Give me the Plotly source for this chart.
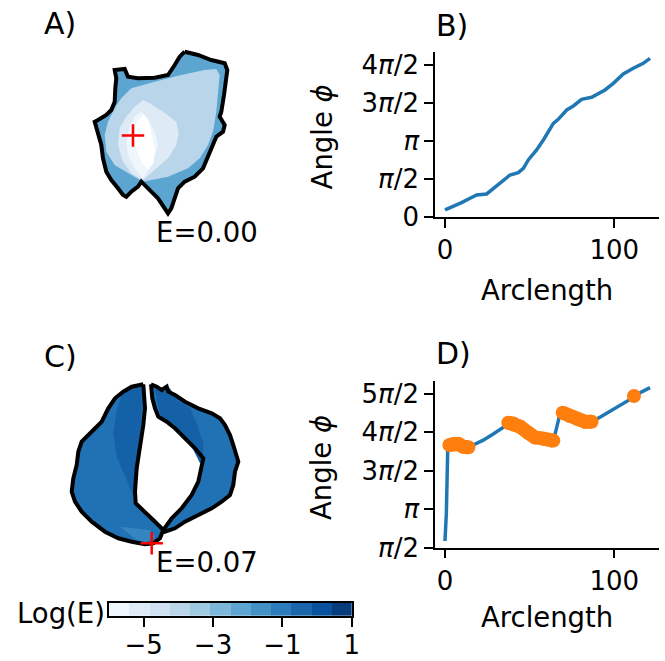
import numpy as np
import plotly.graph_objects as go

W, H = 665, 661
FONT = "DejaVu Sans"
FS = 26
FS_TEXT = 27.5
FS_TITLE = 30
BLUE = "#1f77b4"
ORANGE = "#ff7f0e"
PI = np.pi

# ---------------- Panel B data ----------------
b_arclength = [0, 4.9, 9.8, 14.8, 18.7, 24.6, 28.5, 34.4, 38.4, 43.3, 46.3, 49.2, 54.1,
               58.1, 62.0, 64.0, 66.9, 71.9, 75.8, 80.7, 86.6, 91.5, 94.5, 99.4, 105.3,
               111.2, 117.1, 121.1]
b_angle = [0.303, 0.441, 0.606, 0.785, 0.923, 0.965, 1.199, 1.543, 1.750, 1.846, 2.026,
           2.370, 2.783, 3.197, 3.679, 3.886, 4.051, 4.437, 4.602, 4.878, 4.961, 5.154,
           5.264, 5.539, 5.925, 6.160, 6.366, 6.573]
b_tickvals = [0, PI / 2, PI, 3 * PI / 2, 2 * PI]
b_ticktext = ["0", "<i>π</i>/2", "<i>π</i>", "3<i>π</i>/2", "4<i>π</i>/2"]

# ---------------- Panel D data ----------------
d_arclength = [0, 0.8, 1.6, 2.6, 4.9, 7.9, 10.8, 13.8, 16.7, 22.6, 28.5, 34.4, 37.4, 40.4,
               44.3, 49.2, 53.1, 58.1, 63.0, 64.0, 65.6, 67.5, 69.5, 73.8, 78.7, 82.7,
               86.6, 91.5, 97.4, 103.3, 109.3, 111.6, 116.1, 121.1]
d_angle = [1.843, 2.972, 5.556, 5.76, 5.80, 5.80, 5.69, 5.67, 5.76, 5.96, 6.21, 6.48, 6.67,
           6.64, 6.51, 6.26, 6.07, 6.02, 5.94, 5.94, 6.37, 6.92, 7.08, 6.94, 6.81, 6.71,
           6.71, 6.89, 7.12, 7.35, 7.62, 7.76, 7.94, 8.10]
d_flagged = [0, 0, 0, 1, 1, 1, 1, 1, 0, 0, 0, 0, 1, 1, 1, 1, 1, 1, 1, 1, 0, 0, 1, 1, 1, 1,
             1, 0, 0, 0, 0, 1, 0, 0]
d_tickvals = [PI / 2, PI, 3 * PI / 2, 2 * PI, 5 * PI / 2]
d_ticktext = ["<i>π</i>/2", "<i>π</i>", "3<i>π</i>/2", "4<i>π</i>/2", "5<i>π</i>/2"]

# ---------------- Colour levels (Log(E)) ----------------
levels = [-6.0, -5.417, -4.833, -4.25, -3.667, -3.083, -2.5, -1.917, -1.333, -0.75,
          -0.167, 0.417, 1.0]
level_colors = ["#eff6fc", "#deebf7", "#cee0f2", "#b9d5ea", "#9ecae1", "#7cb7da",
                "#5da5d1", "#4292c6", "#2c7cbb", "#1966ad", "#08519c", "#083b7b"]
cbar_ticks = [-5, -3, -1, 1]

# ---------------- Panel A shape (outline + filled level regions) ----------------
a_outline_x = [184.7, 198, 211.3, 224.7, 227.3, 225.3, 224, 221.3, 219.7, 224.7, 223, 216.3,
               213, 208, 203, 194.7, 184.7, 178, 174.7, 171.3, 168, 164.7, 158, 151.3, 144.7,
               141.3, 138, 131.3, 126.3, 123, 118, 111.3, 106.3, 103, 101.3, 98, 94.7, 98,
               106.3, 111.3, 114.7, 115.3, 116.3, 114.7, 124.7, 128, 138, 154.7, 168, 174.7,
               179.7, 184.7]
a_outline_y = [51.7, 55, 60, 63.3, 70, 81.7, 95, 111.7, 116.7, 125, 131.7, 136.7, 145, 158.3,
               168.3, 176.7, 181.7, 188.3, 198.3, 208.3, 213.3, 208.3, 198.3, 191.7, 185,
               181.7, 186.7, 191.7, 196.7, 195, 188.3, 180, 171.7, 158.3, 145, 131.7, 121.7,
               120, 115, 110, 101.7, 88.3, 78.3, 70, 69, 76.7, 78.3, 77.7, 75, 65, 56.7, 51.7]
a_lvl3_x = [121.3, 131.3, 154.7, 181.3, 204.7, 216.3, 219.7, 218, 216.3, 213, 208, 199.7, 188,
            168, 143, 131.3, 114.7, 106.3, 104.7, 108, 114.7]
a_lvl3_y = [98.3, 88.3, 81.7, 75, 70, 69, 75, 95, 111.7, 131.7, 145, 158.3, 168.3, 176.7,
            181.7, 175, 165, 151.7, 135, 121.7, 108.3]
a_lvl1_x = [143, 149.7, 163, 176.3, 178.7, 176.3, 168, 154.7, 143, 131.3, 123, 118, 119.7,
            126.3, 134.7]
a_lvl1_y = [100, 103.3, 111.7, 121.7, 133.3, 145, 158.3, 170, 180, 173.3, 161.7, 145, 128.3,
            116.7, 106.7]
a_lvl0_x = [141.3, 146.3, 154.7, 158, 153, 143, 134.7, 128, 126.3, 129.7, 134.7]
a_lvl0_y = [111.7, 116.7, 131.7, 145, 161.7, 178.3, 168.3, 155, 141.7, 126.7, 116.7]
a_core_x = [143.3, 148.3, 151.7, 155, 153.3, 148.3, 141.7, 136.7, 133.3, 136.7]
a_core_y = [114, 120, 133.3, 150, 163.3, 170, 163.3, 150, 136.7, 123.3]
a_start = (133, 135.5)
a_label = "E=0.00"

# ---------------- Panel C shape ----------------
c_left_x = [143.3, 144.3, 145, 143.3, 141, 138.3, 136.7, 135.7, 135, 135.7, 145, 155, 163.3,
            160, 153.3, 145, 131.7, 118.3, 105, 91.7, 81.7, 75, 71.7, 73.3, 76.7, 78.3, 81.7,
            91.7, 101.7, 108.3, 115, 123.3, 131.7, 143.3]
c_left_y = [384.3, 395, 408.3, 425, 441.7, 455, 468.3, 481.7, 491.7, 503.3, 511.7, 521.7, 530,
            538.3, 543.3, 544.3, 541.7, 538.3, 531.7, 521.7, 511.7, 501.7, 491.7, 478.3, 465,
            451.7, 441.7, 431.7, 421.7, 408.3, 398.3, 391.7, 386.7, 384.3]
c_right_x = [151, 156.7, 161.7, 165, 166.7, 168.3, 175, 185, 198.3, 211.7, 220, 225, 230,
             233.3, 236.7, 238.3, 235, 233.3, 230, 221.7, 211.7, 198.3, 185, 175, 165, 163.3,
             171.7, 181.7, 191.7, 198.3, 201.7, 203.3, 195, 185, 175, 166.7, 161.7, 158.3,
             155, 152.3, 151]
c_right_y = [384.3, 386.7, 390, 388.3, 386.7, 391.7, 395, 401.7, 408.3, 413.3, 418.3, 425, 435,
             445, 455, 461.7, 471.7, 485, 495, 501.7, 508.3, 515, 521.7, 528.3, 531.7, 530,
             518.3, 508.3, 495, 481.7, 468.3, 458.3, 448.3, 438.3, 428.3, 421.7, 418.3,
             416.7, 408.3, 398.3, 384.3]
c_dark_left_x = [123.3, 141.7, 141.7, 138.3, 135, 133.3, 126.7, 116.7, 113.3, 116.7]
c_dark_left_y = [390, 386.7, 413.3, 446.7, 480, 496.7, 480, 456.7, 433.3, 410]
c_dark_right_x = [155, 163.3, 170, 176.7, 190, 196.7, 203.3, 203.3, 200, 190, 176.7, 163.3,
                  160, 156.7]
c_dark_right_y = [388.3, 390, 388.3, 400, 408.3, 423.3, 443.3, 460, 463.3, 443.3, 426.7,
                  420, 413.3, 400]
c_light_x = [120, 150, 155, 150, 136.7]
c_light_y = [526.7, 530, 536.7, 543.3, 540]
c_start = (151.7, 543.3)
c_label = "E=0.07"

C_MAIN, C_DARK, C_LIGHT = "#2171b5", "#1461a8", "#3585c0"

fig = go.Figure()


def closed(xs, ys):
    return list(xs) + [xs[0]], list(ys) + [ys[0]]


def region(xs, ys, color, xa, ya):
    cx, cy = closed(xs, ys)
    fig.add_trace(go.Scatter(x=cx, y=cy, mode="lines", fill="toself", fillcolor=color,
                             line=dict(width=0, color=color), hoverinfo="skip",
                             showlegend=False, xaxis=xa, yaxis=ya))


def outline(xs, ys, xa, ya):
    cx, cy = closed(xs, ys)
    fig.add_trace(go.Scatter(x=cx, y=cy, mode="lines", line=dict(width=4, color="black"),
                             hoverinfo="skip", showlegend=False, xaxis=xa, yaxis=ya))


# Panel A
region(a_outline_x, a_outline_y, level_colors[6], "x3", "y3")
region(a_lvl3_x, a_lvl3_y, level_colors[3], "x3", "y3")
region(a_lvl1_x, a_lvl1_y, level_colors[1], "x3", "y3")
region(a_lvl0_x, a_lvl0_y, level_colors[0], "x3", "y3")
region(a_core_x, a_core_y, "#ffffff", "x3", "y3")
outline(a_outline_x, a_outline_y, "x3", "y3")
fig.add_trace(go.Scatter(x=[a_start[0]], y=[a_start[1]], mode="markers",
                         marker=dict(symbol="cross-thin", size=16, line=dict(width=2.5, color="red")),
                         showlegend=False, xaxis="x3", yaxis="y3"))

# Panel C
region(c_left_x, c_left_y, C_MAIN, "x4", "y4")
region(c_right_x, c_right_y, C_MAIN, "x4", "y4")
region(c_dark_left_x, c_dark_left_y, C_DARK, "x4", "y4")
region(c_dark_right_x, c_dark_right_y, C_DARK, "x4", "y4")
region(c_light_x, c_light_y, C_LIGHT, "x4", "y4")
outline(c_left_x, c_left_y, "x4", "y4")
outline(c_right_x, c_right_y, "x4", "y4")
fig.add_trace(go.Scatter(x=[c_start[0]], y=[c_start[1]], mode="markers",
                         marker=dict(symbol="cross-thin", size=16, line=dict(width=2.5, color="red")),
                         showlegend=False, xaxis="x4", yaxis="y4"))

# Panel B
fig.add_trace(go.Scatter(x=b_arclength, y=b_angle, mode="lines",
                         line=dict(color=BLUE, width=3.5), showlegend=False,
                         xaxis="x", yaxis="y"))

# Panel D
fig.add_trace(go.Scatter(x=d_arclength, y=d_angle, mode="lines",
                         line=dict(color=BLUE, width=3.5), showlegend=False,
                         xaxis="x2", yaxis="y2"))
ox = [x if f else None for x, f in zip(d_arclength, d_flagged)]
oy = [y if f else None for y, f in zip(d_angle, d_flagged)]
fig.add_trace(go.Scatter(x=ox, y=oy, mode="lines+markers", connectgaps=False,
                         line=dict(color=ORANGE, width=14),
                         marker=dict(color=ORANGE, size=14), showlegend=False,
                         xaxis="x2", yaxis="y2"))

# Colour bar
mids = [(levels[i] + levels[i + 1]) / 2 for i in range(len(levels) - 1)]
n = len(level_colors)
cscale = []
for i, c in enumerate(level_colors):
    cscale.append([i / n, c])
    cscale.append([(i + 1) / n, c])
fig.add_trace(go.Heatmap(x=levels, y=[0, 1], z=[mids], colorscale=cscale,
                         zmin=levels[0], zmax=levels[-1], showscale=False,
                         xaxis="x5", yaxis="y5", hoverinfo="skip"))


def px_x(p):
    return p / W


def px_y(p):
    return 1 - p / H


tickfont = dict(family=FONT, size=FS, color="black")
line_axis = dict(showline=True, linecolor="black", linewidth=1.5, ticks="outside",
                 ticklen=9, tickwidth=1.5, tickcolor="black", showgrid=False,
                 zeroline=False, tickfont=tickfont, fixedrange=True, automargin=False)
xr = [-5.9, 126.4]
xdom = [px_x(435), px_x(659)]

hidden = dict(visible=False, showgrid=False, zeroline=False, fixedrange=True,
              automargin=False)

fig.update_layout(
    width=W, height=H, margin=dict(l=0, r=0, t=0, b=0, autoexpand=False),
    paper_bgcolor="white", plot_bgcolor="rgba(0,0,0,0)",
    font=dict(family=FONT, size=FS, color="black"),
    xaxis=dict(domain=xdom, range=xr, anchor="y", tickvals=[0, 100], **line_axis),
    yaxis=dict(domain=[px_y(217.3), px_y(51.7)], range=[0, 6.846], anchor="x",
               tickvals=b_tickvals, ticktext=b_ticktext, **line_axis),
    xaxis2=dict(domain=xdom, range=xr, anchor="y2", tickvals=[0, 100], **line_axis),
    yaxis2=dict(domain=[px_y(547.7), px_y(381)], range=[PI / 2, 8.372], anchor="x2",
                tickvals=d_tickvals, ticktext=d_ticktext, **line_axis),
    xaxis3=dict(domain=[0, px_x(280)], range=[0, 280], anchor="y3", **hidden),
    yaxis3=dict(domain=[px_y(255), 1], range=[255, 0], anchor="x3", **hidden),
    xaxis4=dict(domain=[0, px_x(280)], range=[0, 280], anchor="y4", **hidden),
    yaxis4=dict(domain=[px_y(590), px_y(330)], range=[590, 330], anchor="x4", **hidden),
    xaxis5=dict(domain=[px_x(109), px_x(351.7)], range=[levels[0], levels[-1]], anchor="y5",
                tickvals=cbar_ticks, showline=True, mirror=True, linecolor="black",
                linewidth=1.5, ticks="outside", ticklen=9, tickwidth=1.5,
                tickcolor="black", showgrid=False, zeroline=False, tickfont=tickfont,
                ticklabelstandoff=-4, fixedrange=True, automargin=False),
    yaxis5=dict(domain=[px_y(616), px_y(602.7)], range=[0, 1], anchor="x5",
                showline=True, mirror=True, linecolor="black", linewidth=1.5,
                showticklabels=False, ticks="", showgrid=False, zeroline=False,
                fixedrange=True, automargin=False),
)


def ann(text, x, y, xanchor="left", yanchor="middle", angle=0, size=FS_TEXT):
    fig.add_annotation(text=text, x=px_x(x), y=px_y(y), xref="paper", yref="paper",
                       xanchor=xanchor, yanchor=yanchor, showarrow=False, textangle=angle,
                       borderpad=0, font=dict(family=FONT, size=size, color="black"))


ann("A)", 43, 23, size=FS_TITLE)
ann("B)", 435, 25, size=FS_TITLE)
ann("C)", 43, 356, size=FS_TITLE)
ann("D)", 435, 353, size=FS_TITLE)
ann(a_label, 155, 232)
ann(c_label, 155, 562)
ann("Arclength", 547, 290, xanchor="center")
ann("Arclength", 547, 617, xanchor="center")
ann("Angle <i>ϕ</i>", 321.7, 136.7, xanchor="center", angle=-90)
ann("Angle <i>ϕ</i>", 321, 468, xanchor="center", angle=-90)
ann("Log(E)", 106, 613, xanchor="right")

fig.write_html("out.html", config={"displayModeBar": False},
               post_script="document.body.style.margin='0';")
